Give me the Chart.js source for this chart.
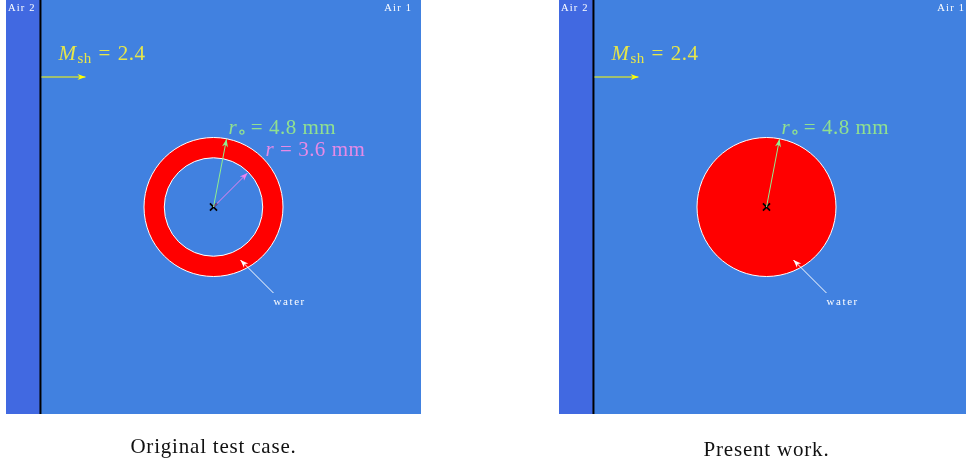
<!DOCTYPE html>
<html>
<head>
<meta charset="utf-8">
<script src="https://cdn.jsdelivr.net/npm/chart.js@4.4.1/dist/chart.umd.min.js"></script>
<style>
html, body { margin: 0; padding: 0; background: #ffffff; overflow: hidden; width: 966px; height: 465px; }
.panel { position: absolute; top: 0; width: 415px; height: 465px; }
</style>
</head>
<body>
<div class="panel" style="left:6px"><canvas id="leftChart"></canvas></div>
<div class="panel" style="left:559px"><canvas id="rightChart"></canvas></div>
<script>
// domain in mm, cylinder centred at the origin
const domainX = [-14.33, 14.33];
const domainY = [-14.3, 14.3];
const interfaceX = -11.95;
const outerRadius = 4.8;
const innerRadius = 3.4;   // as drawn in the picture

const shockArrow = [{ x: -11.88, y: 8.98 }, { x: -8.84, y: 8.98 }];
const outerArrow = [{ x: 0, y: 0 }, { x: 0.9, y: 4.7 }];
const innerArrow = [{ x: 0, y: 0 }, { x: 2.35, y: 2.35 }];
const waterArrow = [{ x: 4.14, y: -5.94 }, { x: 1.86, y: -3.66 }];
const centrePoint = [{ x: 0, y: 0 }];

const captions = ['Original test case.', 'Present work.'];

const colours = {
    air1: '#4181e0',
    air2: '#4169e1',
    water: '#ff0000',
    shock: '#ffff00',
    shockText: '#e6e64a',
    outer: '#90ee90',
    outerText: '#90e090',
    inner: '#ee82ee',
    innerText: '#e68ae6'
};

const serif = "'Liberation Serif', 'DejaVu Serif', serif";

function px(chart, x, y) {
    return [chart.scales.x.getPixelForValue(x), chart.scales.y.getPixelForValue(y)];
}

// background: two air regions, the interface and the cylinder
const backgroundPlugin = {
    id: 'background',
    beforeDatasetsDraw(chart) {
        const ctx = chart.ctx;
        const a = chart.chartArea;
        const xi = chart.scales.x.getPixelForValue(interfaceX);
        ctx.save();
        ctx.fillStyle = colours.air1;
        ctx.fillRect(a.left, a.top, a.right - a.left, a.bottom - a.top);
        ctx.fillStyle = colours.air2;
        ctx.fillRect(a.left, a.top, xi - a.left, a.bottom - a.top);
        ctx.fillStyle = '#000000';
        ctx.fillRect(xi - 1, a.top, 2, a.bottom - a.top);

        const [cx, cy] = px(chart, 0, 0);
        const ro = chart.scales.x.getPixelForValue(outerRadius) - cx;
        ctx.beginPath();
        ctx.arc(cx, cy, ro, 0, Math.PI * 2);
        ctx.fillStyle = colours.water;
        ctx.fill();
        ctx.strokeStyle = '#ffffff';
        ctx.lineWidth = 1;
        ctx.stroke();
        if (chart.options.plugins.background.ring) {
            const ri = chart.scales.x.getPixelForValue(innerRadius) - cx;
            ctx.beginPath();
            ctx.arc(cx, cy, ri, 0, Math.PI * 2);
            ctx.fillStyle = colours.air1;
            ctx.fill();
            ctx.stroke();
        }
        ctx.restore();
    }
};

// arrow heads at the end of each arrow dataset
const arrowPlugin = {
    id: 'arrowHeads',
    afterDatasetsDraw(chart) {
        const ctx = chart.ctx;
        chart.data.datasets.forEach((ds, i) => {
            if (!ds.arrow) return;
            const pts = chart.getDatasetMeta(i).data;
            const p0 = pts[pts.length - 2], p1 = pts[pts.length - 1];
            const ang = Math.atan2(p1.y - p0.y, p1.x - p0.x);
            const len = 8, wid = 3;
            ctx.save();
            ctx.translate(p1.x, p1.y);
            ctx.rotate(ang);
            ctx.beginPath();
            ctx.moveTo(0, 0);
            ctx.lineTo(-len, -wid);
            ctx.lineTo(-len * 0.7, 0);
            ctx.lineTo(-len, wid);
            ctx.closePath();
            ctx.fillStyle = ds.borderColor;
            ctx.fill();
            ctx.restore();
        });
    }
};

function drawPieces(ctx, x, y, pieces) {
    pieces.forEach(p => {
        if (p.t) {
            ctx.font = p.font;
            ctx.fillText(p.t, x, y + (p.dy || 0));
            x += ctx.measureText(p.t).width;
        }
        x += p.gap || 0;
    });
}

const mathFont = '21px ' + serif;
const mathItalic = 'italic 21px ' + serif;

// text labels in data coordinates
const labelPlugin = {
    id: 'labels',
    afterDraw(chart) {
        const ctx = chart.ctx;
        const a = chart.chartArea;
        const opts = chart.options.plugins.labels;
        ctx.save();
        ctx.textBaseline = 'alphabetic';

        ctx.fillStyle = '#ffffff';
        ctx.font = '10.5px ' + serif;
        ctx.letterSpacing = '1.2px';
        let [x, y] = px(chart, -14.2, 13.54);
        ctx.textAlign = 'left';
        ctx.fillText('Air 2', x, y);
        [x, y] = px(chart, 13.72, 13.54);
        ctx.textAlign = 'right';
        ctx.fillText('Air 1', x, y);
        ctx.font = '11px ' + serif;
        ctx.letterSpacing = '1.6px';
        [x, y] = px(chart, 4.14, -6.8);
        ctx.textAlign = 'left';
        ctx.fillText('water', x, y);

        ctx.letterSpacing = '0.4px';
        ctx.fillStyle = colours.shockText;
        [x, y] = px(chart, -10.7, 10.15);
        drawPieces(ctx, x, y, [
            { t: 'M', font: mathItalic, gap: 1 },
            { t: 'sh', font: '15px ' + serif, dy: 3, gap: 7 },
            { t: '=', font: mathFont, gap: 7 },
            { t: '2.4', font: mathFont }
        ]);

        ctx.fillStyle = colours.outerText;
        [x, y] = px(chart, 1.04, 5.04);
        drawPieces(ctx, x, y, [
            { t: 'r', font: mathItalic },
            { t: '\u2218', font: '19px ' + serif, dy: 4, gap: 4 },
            { t: '=', font: mathFont, gap: 6 },
            { t: '4.8', font: mathFont, gap: 6 },
            { t: 'mm', font: mathFont }
        ]);

        if (opts.ring) {
            ctx.fillStyle = colours.innerText;
            [x, y] = px(chart, 3.59, 3.52);
            drawPieces(ctx, x, y, [
                { t: 'r', font: mathItalic, gap: 6 },
                { t: '=', font: mathFont, gap: 6 },
                { t: '3.6', font: mathFont, gap: 6 },
                { t: 'mm', font: mathFont }
            ]);
        }

        ctx.fillStyle = '#111111';
        ctx.font = '21px ' + serif;
        ctx.letterSpacing = '0.8px';
        ctx.textAlign = 'center';
        ctx.fillText(opts.caption, (a.left + a.right) / 2, a.bottom + opts.captionOffset);
        ctx.restore();
    }
};

function arrowSet(data, colour) {
    return {
        type: 'line', data, arrow: true, showLine: true,
        borderColor: colour, borderWidth: 1, pointRadius: 0, fill: false
    };
}

function makeChart(canvasId, ring, caption, captionOffset) {
    const datasets = [
        arrowSet(shockArrow, colours.shock),
        arrowSet(outerArrow, colours.outer)
    ];
    if (ring) datasets.push(arrowSet(innerArrow, colours.inner));
    datasets.push(arrowSet(waterArrow, '#ffffff'));
    datasets.push({
        type: 'scatter', data: centrePoint, pointStyle: 'crossRot',
        pointRadius: 5, borderColor: '#000000', borderWidth: 1.7
    });

    return new Chart(document.getElementById(canvasId), {
        type: 'scatter',
        data: { datasets },
        options: {
            responsive: true,
            maintainAspectRatio: false,
            animation: false,
            layout: { autoPadding: false, padding: { left: 0, right: 0, top: 0, bottom: 51 } },
            scales: {
                x: { type: 'linear', min: domainX[0], max: domainX[1], display: false },
                y: { type: 'linear', min: domainY[0], max: domainY[1], display: false }
            },
            plugins: {
                legend: { display: false },
                tooltip: { enabled: false },
                background: { ring },
                labels: { ring, caption, captionOffset }
            }
        },
        plugins: [backgroundPlugin, arrowPlugin, labelPlugin]
    });
}

makeChart('leftChart', true, captions[0], 39);
makeChart('rightChart', false, captions[1], 42);
</script>
</body>
</html>
